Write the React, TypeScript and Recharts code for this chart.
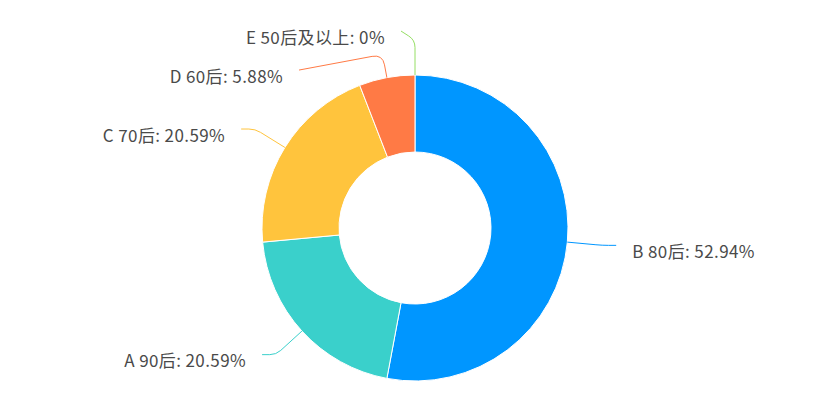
import React from 'react';
import { PieChart, Pie, Cell } from 'recharts';

const names = ['B 80后', 'A 90后', 'C 70后', 'D 60后', 'E 50后及以上'];
const values = [18, 7, 7, 2, 0];
const colors = ['#0096FF', '#3AD0CB', '#FFC43D', '#FF7A45', '#95DE64'];

const CX = 415;
const CY = 228;
const OUTER = 153;
const INNER = 76;
const LEN1 = 35;
const LEN2 = 14;
const TEXT_GAP = 16;
const MIN_GAP = 39;

const total = values.reduce((a, b) => a + b, 0);
const data = names.map((n, i) => ({ name: n, value: values[i] }));

function fmtPct(v: number) {
  return Number(((v / total) * 100).toFixed(2)) + '%';
}

type LabelLayout = {
  side: 'left' | 'right';
  p0: [number, number];
  p1: [number, number];
  end: [number, number];
};

function computeLayout(): LabelLayout[] {
  let cum = 0;
  const R1 = OUTER + LEN1;
  const items = values.map((v, i) => {
    const mid = ((cum + v / 2) / total) * 360;
    cum += v;
    const a = (mid * Math.PI) / 180;
    const side: 'left' | 'right' = mid > 180 ? 'left' : 'right';
    const p0: [number, number] = [CX + OUTER * Math.sin(a), CY - OUTER * Math.cos(a)];
    const p1: [number, number] = [CX + R1 * Math.sin(a), CY - R1 * Math.cos(a)];
    return { i, side, p0, p1, y: p1[1], ny: p1[1] };
  });
  (['left', 'right'] as const).forEach((side) => {
    const list = items.filter((it) => it.side === side).sort((a, b) => a.ny - b.ny);
    let cluster: typeof list = [];
    const clusters: (typeof list)[] = [];
    list.forEach((it, k) => {
      if (k > 0 && it.y - list[k - 1].y < MIN_GAP) {
        it.y = list[k - 1].y + MIN_GAP;
        cluster.push(it);
      } else {
        if (cluster.length) clusters.push(cluster);
        cluster = [it];
      }
    });
    if (cluster.length) clusters.push(cluster);
    clusters.forEach((c) => {
      if (c.length < 2) return;
      const meanDisp = c.reduce((s, it) => s + (it.y - it.ny), 0) / c.length;
      c.forEach((it) => (it.y -= meanDisp / 2));
    });
  });
  return items.map((it) => {
    const dir = it.side === 'left' ? -1 : 1;
    let x = it.p1[0];
    if (Math.abs(it.y - it.ny) > 0.5) {
      const dy = it.y - CY;
      const R1b = OUTER + LEN1;
      x = Math.abs(dy) < R1b ? CX + dir * Math.sqrt(R1b * R1b - dy * dy) : CX;
    }
    const end: [number, number] = [x + dir * LEN2, it.y];
    let p1: [number, number] = [it.p1[0], it.p1[1]];
    const ax = it.p0[0] - p1[0], ay = it.p0[1] - p1[1];
    const bx = end[0] - p1[0], by = end[1] - p1[1];
    if (ax * bx + ay * by > 0) {
      const lx = p1[0] - it.p0[0], ly = p1[1] - it.p0[1];
      const ll = Math.hypot(lx, ly);
      const ux = lx / ll, uy = ly / ll;
      const t = (end[0] - it.p0[0]) * ux + (end[1] - it.p0[1]) * uy;
      p1 = [it.p0[0] + ux * t, it.p0[1] + uy * t];
    }
    return { side: it.side, p0: it.p0, p1, end };
  });
}

const layout = computeLayout();

function linePath(l: LabelLayout) {
  const [x0, y0] = l.p0;
  const [x1, y1] = l.p1;
  const [x2, y2] = l.end;
  const d1 = Math.hypot(x1 - x0, y1 - y0);
  const d2 = Math.hypot(x2 - x1, y2 - y1);
  const r = Math.min(d1, d2) * 0.45;
  if (d1 < 0.01 || d2 < 0.01) return `M${x0},${y0}L${x2},${y2}`;
  const ax = x1 + ((x0 - x1) / d1) * r;
  const ay = y1 + ((y0 - y1) / d1) * r;
  const bx = x1 + ((x2 - x1) / d2) * r;
  const by = y1 + ((y2 - y1) / d2) * r;
  return `M${x0},${y0}L${ax},${ay}Q${x1},${y1} ${bx},${by}L${x2},${y2}`;
}

const renderLabel = (props: any) => {
  const index = props.index as number;
  const l = layout[index];
  if (!l) return null;
  const dir = l.side === 'left' ? -1 : 1;
  return (
    <g key={`lbl-${index}`}>
      <path d={linePath(l)} stroke={colors[index]} strokeWidth={1} fill="none" />
      <text
        x={l.end[0] + dir * TEXT_GAP}
        y={l.end[1] + 5}
        textAnchor={l.side === 'left' ? 'end' : 'start'}
        dominantBaseline="central"
        fill="#4a4a4a"
        fontSize={17}
        letterSpacing={0.4}
        fontFamily="'Noto Sans CJK SC', 'Noto Sans', sans-serif"
      >
        {`${names[index]}: ${fmtPct(values[index])}`}
      </text>
    </g>
  );
};

export default function App() {
  return (
    <div style={{ position: 'absolute', left: 0, top: 0, width: 831, height: 415, background: '#fff' }}>
      <PieChart width={831} height={415} margin={{ top: 0, right: 0, bottom: 0, left: 0 }}>
        <Pie
          data={data}
          dataKey="value"
          nameKey="name"
          cx={CX}
          cy={CY}
          innerRadius={INNER}
          outerRadius={OUTER}
          startAngle={90}
          endAngle={-270}
          stroke="#fff"
          strokeWidth={1}
          label={renderLabel}
          labelLine={false}
          isAnimationActive={false}
        >
          {data.map((d, i) => (
            <Cell key={d.name} fill={colors[i]} />
          ))}
        </Pie>
      </PieChart>
    </div>
  );
}
